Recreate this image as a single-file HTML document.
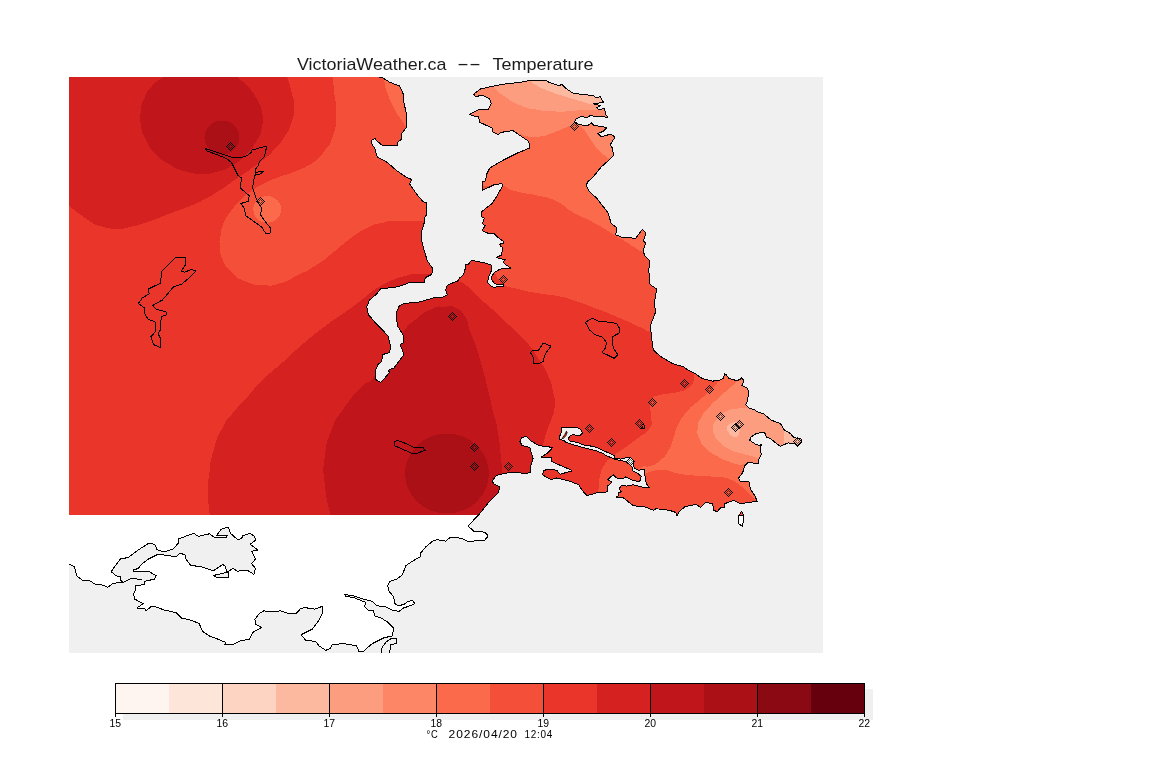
<!DOCTYPE html>
<html lang="en"><head><meta charset="utf-8"><title>VictoriaWeather.ca -- Temperature</title>
<style>html,body{margin:0;padding:0;background:#fff}body{width:1152px;height:768px;overflow:hidden}svg{display:block}</style>
</head><body>
<svg width="1152" height="768" viewBox="0 0 1152 768" shape-rendering="crispEdges">
<defs><clipPath id="land"><path d="M69 77 L379.5 77 L382.8 77.8 L389.5 82.2 L399.5 86 L402.9 92.3 L404 103.4 L406.2 112.3 L406.9 126.8 L401.7 133.5 L401.7 139 L397.3 142.4 L397.3 145.3 L382.8 145.7 L377.2 141.3 L375 138.6 L371.7 140.2 L371.7 143.5 L375 149 L377.2 156.9 L387.3 162.4 L396.2 170.2 L405.1 176.5 L411.8 179.6 L409.5 183.6 L416.2 193.6 L422.9 201.4 L426.7 203 L426.7 214.8 L424 218.1 L424.7 221.4 L421.8 230.4 L421.8 241 L424 250 L427.4 261 L432.9 268.8 L431.8 274.4 L425.1 277.7 L424.7 282.2 L409.5 282.6 L398.4 286.7 L380.6 288.9 L376.1 294.5 L369.5 300 L366.8 306.7 L368.3 314.5 L375 322.3 L382.8 330.1 L388.4 336.8 L390.6 346.8 L389.5 352.4 L382.8 354.6 L381.7 361.3 L377.9 364.6 L375 371.3 L375 379.1 L380.6 382.4 L383.9 379.1 L389.5 372.4 L388.4 370.2 L393.9 367.9 L400.6 359 L404 354.6 L400.2 344.6 L404 342.3 L402.9 334.5 L397.3 325.6 L396.2 312.3 L399.5 305.6 L404 303.4 L418.4 302.2 L434 297.8 L440 297.7 L444.2 296.7 L447.3 294.6 L445.7 289.9 L447.3 285.2 L453.5 282.6 L457.7 281 L459.8 277.9 L463.4 274.8 L465 269.6 L466 264.4 L469.2 263.9 L470.2 261.3 L472.3 260.2 L478.5 261.8 L485.8 263.1 L491 264.9 L492.1 269.1 L490 273.8 L488.1 278.4 L487.9 282.6 L490.5 285.7 L494.2 287.5 L496.3 286.8 L503.5 286.3 L503 284.2 L496.3 284.2 L494.2 283.1 L491.6 279.5 L491.6 276.4 L494.2 272.7 L498.3 270.1 L502.5 268.5 L510.8 268 L506.7 265.4 L503 262.3 L505.6 259.7 L499.4 258.6 L496.8 257.3 L501.5 255 L501.5 252.4 L503 250.3 L502.5 247.2 L500.4 246.1 L499.9 244.1 L503.3 243.5 L503 240.9 L499.9 238.9 L496.8 236.3 L494.2 233.6 L489 233.6 L483.8 231.6 L482.2 230 L482.6 229.2 L485.3 225.9 L482.6 223.7 L484.2 218.1 L481.9 217 L481.9 211.4 L492 203.6 L496.4 197 L502 186.9 L502 183.6 L494.2 184.7 L482.6 190.3 L482.6 181.4 L485.7 180.9 L486.4 174.7 L489.7 168 L503.1 160.2 L516.4 153.5 L529.8 148 L528.7 141.3 L518.7 134.6 L513.1 130.6 L500.9 132.4 L498.6 134.6 L493.1 132.4 L491.9 127.9 L479.7 122.3 L478.6 116.8 L471.9 115.7 L469.7 114.1 L479.7 109 L483 110 L488.6 109 L491.3 103.4 L489.7 99 L483 95.6 L475.2 96.3 L473.7 94 L480.8 88.9 L500.9 84.5 L520.9 82.2 L532 80 L545.4 80 L548.9 82.2 L558.8 85.6 L562.1 84.5 L566.6 88.9 L573.4 93.4 L593.5 95.6 L595.7 97.8 L600.1 96.7 L603.5 102.3 L593.5 103.9 L600.1 105.6 L596.8 107.9 L599 110 L604.6 108.3 L605.7 114.5 L607.9 117.2 L595.7 116.3 L590.1 115.7 L586.8 117.9 L581.2 116.3 L575.6 119.4 L574.5 121.7 L579 124.6 L587.9 125.7 L591.2 122.8 L593.5 125.2 L606.8 127.5 L603.5 131.2 L597.9 133.5 L601.2 136.8 L609 134.6 L613.5 135.3 L614.6 137.9 L610.2 144.6 L612.4 148 L613.5 155.7 L610.2 159.1 L601.2 166.9 L592.3 178 L587.9 181.4 L586.1 185.8 L590.1 192.5 L596.8 198.1 L603.5 207 L607.9 212.5 L611.3 223.7 L616.8 227.7 L615.7 234.8 L622.4 237.5 L635.8 238.2 L642.4 229.2 L645.8 232.6 L643.6 241 L645.5 243.2 L643.3 249.9 L644.4 255.5 L650 261 L648.8 270 L650 284.4 L656.6 288.9 L654.4 303.4 L655.5 312.3 L650.4 325.6 L651.7 339 L653.3 350.1 L661.1 356.8 L672.2 363.5 L683.4 366.8 L687.8 370 L695.6 373.9 L702.1 378.5 L712.6 381.1 L719.1 380.4 L723.6 378.5 L724.3 373.9 L726.2 374.6 L728.8 378.5 L736 380.4 L739.9 379.8 L741.2 377.6 L743.2 379.8 L743.2 383 L741.8 385.6 L747.7 388.2 L748.4 392.1 L747.7 400.6 L745.8 404.5 L748.4 407.8 L754.2 409.7 L758.1 412.3 L763.3 413.6 L771.1 420.1 L776.4 422.1 L780.3 423.4 L784.2 429.9 L790.7 433.8 L793.9 437.7 L801.1 439 L801.8 441.6 L797.8 446.2 L794.6 443.6 L788.1 442.9 L783.5 444.9 L780.3 446.2 L776.4 443.6 L771.1 439 L766.6 437.1 L764.6 432.5 L756.8 433.2 L751 437.1 L749.7 440.3 L755.5 444.2 L759.4 445.5 L761.4 444.5 L760.1 448.1 L761.4 454.6 L758.8 459.2 L758.8 463.8 L754.2 463.1 L747.7 462.7 L744.9 465.7 L742.7 472.4 L738.7 478 L740.4 482 L748.9 481.3 L750.5 489.1 L754.9 495.8 L757.1 501.3 L749.4 502.4 L740.4 503.6 L733.8 500.2 L724.9 503.6 L724.9 506.9 L720.4 508 L717.1 511.8 L713.7 510.2 L712.6 503.6 L705.9 502.4 L700.4 507.3 L695.9 504.2 L684.8 506.9 L679.2 511.4 L677 516.3 L675.9 512.5 L669.2 510.2 L655.8 508.7 L653.6 510.2 L644.7 506.9 L633.5 505.8 L623.5 498 L616.8 496.9 L616.2 498 L618.3 495.6 L618.3 492.5 L621.4 492 L619.3 488.8 L621.4 485.2 L626.6 486.2 L632.9 484.7 L639.1 486.2 L645.4 488 L649.5 487.6 L647.5 485.7 L645.4 480.5 L644.9 474.3 L644.3 469.6 L638.6 470.1 L634.4 468.5 L633.4 463.8 L633.9 460.7 L630.3 457.4 L624.5 458.1 L620.4 459.1 L615.2 458.1 L614.1 455.5 L608.9 452.9 L604.8 451.3 L598.5 448.2 L592.3 446.3 L581.8 444.6 L577.7 442.5 L569.3 440.9 L568.3 438.8 L569.9 436.2 L572.5 434.9 L580.3 435.2 L582.4 433.1 L581.3 430 L577.7 427.6 L561.5 427.9 L561 433.6 L559.1 437.3 L560 439.4 L563.6 440.4 L566.2 442.5 L572.5 444.6 L579.8 446.6 L588.1 448.7 L596.4 450.8 L602.7 453.4 L606.8 456 L611 457.6 L616.2 459.7 L622.5 460.7 L626.6 462.3 L629.8 464.9 L632.9 468 L632.9 471.1 L638.1 473.7 L641.2 476.3 L640.2 480.5 L638.1 481.8 L630.8 479.5 L627.7 477.9 L625.6 476.9 L622.5 478.9 L617.3 478.4 L613.1 474.8 L607.9 479.5 L612 482.4 L607.9 485.7 L607.4 491.4 L604.8 492.5 L596.4 493 L587 495.6 L581.8 489.9 L578.7 484.7 L570.4 481.5 L565.2 480 L556.8 477.9 L551.6 479.5 L546.4 477.4 L542.8 474.8 L543.3 471.1 L546.4 469.6 L556.8 470.1 L560 474.3 L567.3 472.2 L571.9 471.1 L570.4 469.6 L564.1 467 L556.8 463.8 L551.6 461.2 L551.1 457.6 L541.2 457.1 L546.4 453.9 L549.5 451.3 L552.7 447.4 L542.3 446.1 L538.7 445.4 L530.9 441 L526.5 436.5 L522 437.6 L519.8 441 L522 445.4 L529.8 447.6 L533.1 458.8 L530.9 465.5 L530.9 472.1 L525.4 473.9 L516.4 472.1 L505.3 473.2 L496.4 475.5 L492 481 L494.2 484.4 L499.7 486.6 L498.6 492.2 L489.7 501.1 L480.8 512.2 L478.6 515 L69 515.0Z"/></clipPath><clipPath id="map"><rect x="69" y="77" width="754" height="576"/></clipPath></defs>
<rect x="69" y="77" width="754" height="576" fill="#f0f0f0"/>
<g clip-path="url(#map)">
<path d="M69 515 L478.6 515 L473.7 520 L468.2 526.2 L473.7 531.1 L484.9 532.2 L488.2 536 L484.9 540 L468.2 541.6 L461.5 538.3 L450.4 537.1 L445.9 541.2 L437 539.6 L432.5 541.2 L425.9 546.7 L420.3 553.4 L420.3 556.7 L412.5 561.2 L405.8 565.7 L402.5 574.6 L396.9 579 L390.2 581.2 L387.6 585.7 L389.1 591.3 L393.6 596.8 L394.7 603.5 L398 605.7 L403.6 604.6 L408 601.3 L412.5 600.6 L414.7 603.5 L410.3 605.7 L403.6 608 L399.1 611.3 L392.4 610.2 L385.8 606.9 L376.9 605.7 L372.4 601.3 L363.5 599.1 L353.5 595.7 L344.6 594.6 L345.7 596.2 L354.6 598 L365.7 602.4 L364.6 606.9 L368 610.2 L373.5 610.2 L374.6 615.8 L381.3 618 L388 622.4 L393.6 628 L392.4 635.8 L383.5 638 L372.4 643.6 L366.8 648.1 L363.5 651.8 L359 651.4 L356.4 645.8 L343.5 643.6 L332.3 644.7 L330.1 648.7 L325.6 650.3 L319 645.8 L315.6 641.4 L305.6 640.3 L301.1 634.7 L312.3 629.1 L319 620.2 L323 612.4 L322.3 606.4 L314.5 609.1 L305 607.6 L300.5 608.7 L296.1 613.6 L289.4 614 L280.5 610.7 L273.8 612 L263.8 610.9 L259.3 613.6 L254.9 619.2 L256 624.7 L261.6 627.4 L252.7 632.5 L249.3 639.2 L240.4 640.8 L233.7 644.3 L224.8 644.8 L225.9 642.5 L218.1 639.2 L209.2 635.9 L202.5 631.4 L199.2 623.6 L191.4 620.3 L181.4 618 L175.8 612.5 L164.7 610.2 L155.8 606.9 L151.3 606.5 L145.7 610.9 L144.6 608 L136.8 608 L143.5 603.6 L134.6 599.1 L133.5 593.5 L135.7 590.2 L135.7 585.7 L144.6 584.6 L144.6 581.3 L154.7 579.1 L156.2 575.7 L149.1 571.7 L133.5 571.3 L133.5 575 L131.2 578.6 L131.2 578.6 L123.4 582.2 L113.3 583.3 L107.8 587.2 L100 584.1 L95.6 584.6 L89 580.2 L82.3 580.2 L76.7 575.7 L74.5 566.8 L69 564.1Z" fill="#fff"/>
<path d="M133.6 572.3 L133.6 570 L138.3 568.4 L141.4 564.5 L148.4 559 L157.8 554.4 L165.6 555.2 L175.8 556.7 L180.5 553.1 L185.2 555.2 L185.9 559 L190.6 565.3 L201.6 566.9 L213.3 570.8 L222.7 564.5 L225 566.1 L227.3 572.3 L213.3 575.5 L215.6 577 L228.9 577 L228.1 571.6 L232.8 568.4 L237.5 571.2 L246.9 570 L253.9 574.4 L255.5 568.4 L251.6 563.8 L255.5 559 L251.6 551.2 L257.8 550 L250 544.2 L255.5 540.3 L254.7 536.4 L250 533.3 L243 535.6 L241.4 538.8 L237.5 539.5 L230.5 533.3 L228.1 527 L221.1 529.4 L216.4 535.6 L227.3 535.3 L226.6 537.2 L215.6 538 L209.4 533.8 L198.4 536.4 L193.8 533.3 L187.5 535.6 L178.9 538.8 L178.1 543.4 L173.4 548.9 L164 552 L157 549.7 L154.7 544.2 L148.4 543.4 L137.5 550.5 L128.1 557.5 L120.3 559 L115.6 565.3 L111.2 571.6 L115.6 575.5 L121.1 577 L120.3 580.2 L123.4 582.2 L131.2 578.6 L142.2 579.4Z" fill="#f0f0f0"/>
</g>
<g clip-path="url(#land)">
<rect x="69" y="77" width="754" height="438" fill="#ea362a"/>
<path d="M287.0 77.0 C288.6 82.1 289.4 82.0 291.7 92.3 C294.0 102.6 294.1 97.5 293.8 107.9 C293.5 118.3 294.2 113.7 290.9 123.6 C287.6 133.5 289.6 128.8 283.9 137.6 C278.2 146.4 280.8 142.6 273.8 150.1 C266.8 157.6 270.9 153.5 263.0 160.0 C255.1 166.5 259.0 163.2 250.0 169.5 C241.0 175.8 245.7 172.3 236.0 179.0 C226.3 185.7 230.8 183.1 221.0 189.5 C211.2 195.9 216.8 192.8 206.5 198.3 C196.2 203.8 202.2 200.9 190.0 206.0 C177.8 211.1 183.7 208.3 170.0 213.5 C156.3 218.7 162.3 217.0 149.0 221.5 C135.7 226.0 141.1 224.6 130.0 227.0 C118.9 229.4 125.7 228.9 115.7 228.6 C105.7 228.3 109.7 229.2 100.0 226.0 C90.3 222.8 97.0 225.7 86.7 219.0 C76.4 212.3 74.9 210.3 69.0 206.0 L50.0 190.0 L50.0 60.0 L287.0 60.0Z" fill="#d52221"/>
<path d="M163.6 77.0 C159.7 80.0 158.4 78.9 151.9 86.1 C145.4 93.3 147.9 89.8 144.1 98.6 C140.3 107.4 141.7 103.8 140.6 112.6 C139.5 121.4 139.2 116.2 140.9 125.1 C142.6 134.0 140.9 129.8 145.6 139.2 C150.3 148.6 147.2 145.0 155.0 153.3 C162.8 161.6 159.2 158.2 169.1 164.2 C179.0 170.2 174.3 168.1 184.7 171.2 C195.1 174.3 189.9 173.3 200.3 173.6 C210.7 173.9 205.5 174.6 215.9 172.0 C226.3 169.4 221.7 171.5 231.6 165.8 C241.5 160.1 237.3 163.1 245.6 154.8 C253.9 146.5 251.1 150.2 256.6 140.8 C262.1 131.4 260.2 136.1 262.0 126.7 C263.8 117.3 263.8 122.0 262.0 112.6 C260.2 103.2 261.0 106.9 256.6 98.6 C252.2 90.3 254.5 94.1 248.8 87.6 C243.1 81.1 243.6 82.5 239.4 79.0 C235.2 75.5 237.3 77.7 236.3 77.0 L232.0 70.0 L168.0 70.0Z" fill="#c0151b"/>
<path d="M332.0 70.0 C332.7 76.7 332.7 75.2 334.0 90.0 C335.3 104.8 336.4 98.9 336.0 114.5 C335.6 130.1 336.4 125.0 332.7 136.8 C329.0 148.6 329.6 143.0 325.0 150.0 C320.4 157.0 323.9 152.9 318.8 157.8 C313.6 162.7 317.7 160.1 309.4 164.8 C301.1 169.5 304.2 167.7 293.8 171.9 C283.3 176.1 287.5 173.7 278.1 177.3 C268.7 180.9 273.9 178.6 265.6 182.8 C257.3 187.0 261.4 184.1 253.1 189.8 C244.8 195.5 247.9 193.0 240.6 200.0 C233.3 207.0 237.0 203.1 231.2 210.9 C225.5 218.7 227.1 214.5 223.4 223.4 C219.8 232.3 221.5 230.3 220.3 237.5 C219.1 244.7 219.3 238.3 219.8 245.0 C220.3 251.7 218.1 248.5 221.9 257.5 C225.7 266.5 223.3 264.1 231.2 272.1 C239.2 280.1 235.4 277.2 245.8 281.5 C256.2 285.8 251.4 284.3 262.5 285.0 C273.6 285.7 267.4 286.8 279.2 283.5 C291.0 280.2 285.4 281.4 297.9 275.2 C310.4 269.0 304.9 272.4 316.7 264.8 C328.5 257.2 322.2 261.0 333.3 252.3 C344.4 243.6 338.9 246.8 350.0 238.8 C361.1 230.8 356.3 233.5 366.7 228.3 C377.1 223.1 370.1 225.5 381.2 223.1 C392.4 220.7 380.4 221.7 400.0 221.0 C419.6 220.3 426.7 221.0 440.0 221.0 L440.0 60.0 L332.0 60.0Z" fill="#f44f39"/>
<path d="M382.8 70.0 C383.4 74.0 383.1 74.7 384.5 82.0 C385.9 89.3 383.8 83.3 387.0 92.0 C390.2 100.7 389.5 99.0 394.0 108.0 C398.5 117.0 396.6 112.7 400.6 119.0 C404.6 125.3 404.2 124.3 406.0 127.0 L415.0 127.0 L415.0 70.0Z" fill="#fb6a4a"/>
<path d="M210.3 520.0 C209.6 511.5 208.5 509.6 208.1 494.4 C207.7 479.2 207.3 489.2 209.2 474.4 C211.1 459.6 209.2 465.5 213.7 449.9 C218.2 434.3 215.9 440.2 222.6 427.6 C229.3 415.0 224.8 423.0 233.7 412.0 C242.6 401.0 239.7 405.4 249.3 394.7 C258.9 384.0 251.2 391.0 262.5 380.0 C273.8 369.0 269.4 374.1 283.3 361.7 C297.2 349.3 290.3 354.7 304.2 342.9 C318.1 331.1 311.1 336.6 325.0 326.2 C338.9 315.9 333.3 320.7 345.8 311.7 C358.3 302.7 353.5 306.2 362.5 299.2 C371.5 292.2 366.6 295.3 372.9 290.8 C379.1 286.3 375.0 289.1 381.2 285.6 C387.5 282.1 384.1 283.5 391.7 280.4 C399.3 277.3 395.9 278.5 404.2 276.2 C412.5 274.0 407.8 274.3 416.7 273.8 C425.6 273.2 422.2 273.9 431.0 274.6 C439.8 275.4 434.1 273.9 443.0 276.0 C451.9 278.1 450.0 277.9 457.7 281.0 C465.4 284.1 460.4 281.4 466.0 285.2 C471.6 289.0 468.5 286.9 474.4 292.5 C480.3 298.1 477.2 295.7 483.8 301.9 C490.4 308.1 484.8 302.3 494.2 311.0 C503.6 319.7 500.9 317.1 512.0 327.9 C523.1 338.7 518.7 333.0 527.6 343.4 C536.5 353.8 532.0 348.6 538.7 359.0 C545.4 369.4 542.8 363.5 547.6 374.6 C552.4 385.7 550.9 381.9 553.2 392.4 C555.5 402.9 555.0 397.5 554.6 406.0 C554.2 414.5 554.6 409.7 552.0 418.0 C549.4 426.3 549.6 422.2 546.7 431.0 C543.8 439.8 544.4 440.0 543.3 444.5 L537.0 470.0 L520.0 530.0 L210.3 530.0Z" fill="#d52221"/>
<path d="M331.6 520.0 C329.4 508.5 327.1 506.7 324.9 485.5 C322.7 464.3 322.7 475.1 324.9 456.5 C327.1 437.9 325.7 445.3 331.6 429.8 C337.5 414.3 333.1 423.9 342.7 410.0 C352.3 396.1 350.1 399.0 360.5 388.0 C370.9 377.0 364.8 387.9 374.0 376.9 C383.2 365.9 378.4 369.9 388.0 355.0 C397.6 340.1 393.5 344.3 402.9 332.3 C412.3 320.3 406.6 326.8 416.2 319.0 C425.8 311.2 422.1 313.1 431.8 309.0 C441.5 304.9 437.4 307.1 445.2 306.7 C453.0 306.3 448.5 304.5 455.2 307.8 C461.9 311.1 460.4 309.3 465.2 316.7 C470.0 324.1 466.0 319.7 469.7 330.1 C473.4 340.5 472.0 334.5 476.4 347.9 C480.8 361.3 478.9 355.4 483.0 370.2 C487.1 385.0 485.2 378.5 488.6 392.4 C492.0 406.3 490.1 399.5 493.1 412.0 C496.1 424.5 494.9 415.0 497.5 429.8 C500.1 444.6 499.4 442.0 500.9 456.5 C502.4 471.0 501.6 467.6 502.0 473.2 L500.0 530.0 L331.6 530.0Z" fill="#c0151b"/>
<path d="M494.7 273.2 C494.9 273.4 494.0 271.9 495.2 273.8 C496.4 275.7 495.9 275.9 498.3 279.0 C500.7 282.1 499.7 280.7 502.5 283.1 C505.3 285.5 502.5 284.6 506.7 286.3 C510.9 288.0 507.7 286.6 515.0 288.3 C522.3 290.0 518.8 289.6 528.5 291.5 C538.2 293.4 533.4 292.4 544.2 294.1 C555.0 295.8 551.7 294.7 561.0 296.7 C570.3 298.7 560.9 296.3 572.0 300.0 C583.1 303.7 579.5 302.2 594.3 307.8 C609.1 313.4 601.7 310.4 616.5 316.7 C631.3 323.0 627.5 321.5 638.8 326.7 C650.1 331.9 640.0 327.9 650.4 332.3 C660.8 336.7 663.5 337.4 670.0 340.0 L670.0 60.0 L445.0 60.0 L445.0 200.0 L470.0 245.0 L495.0 262.0 L495.0 270.0Z" fill="#f44f39"/>
<path d="M495.0 186.5 C497.3 186.3 494.9 184.2 502.0 185.8 C509.1 187.4 504.2 188.1 516.4 191.4 C528.6 194.7 525.3 192.5 538.7 195.8 C552.1 199.1 544.9 195.8 556.5 201.4 C568.1 207.0 560.3 205.1 573.4 212.5 C586.5 219.9 581.6 215.9 595.7 223.7 C609.8 231.5 606.1 230.2 615.7 236.0 C625.3 241.8 617.6 236.7 624.6 241.0 C631.6 245.3 630.4 245.1 636.6 248.8 C642.8 252.5 635.5 248.9 643.3 252.0 C651.1 255.1 654.4 256.0 660.0 258.0 L670.0 60.0 L445.0 60.0 L445.0 186.0Z" fill="#fb6a4a"/>
<path d="M505.0 134.5 C508.8 134.2 508.1 132.7 516.4 133.5 C524.7 134.3 521.9 135.8 529.8 136.8 C537.7 137.8 533.3 137.4 540.0 136.5 C546.7 135.6 542.5 136.5 549.9 134.0 C557.3 131.5 555.3 131.7 562.2 129.0 C569.1 126.3 564.9 127.0 570.5 126.0 C576.1 125.0 574.4 124.6 579.0 126.0 C583.6 127.4 580.7 126.1 584.4 130.3 C588.1 134.5 585.4 132.2 590.0 138.7 C594.6 145.2 592.3 143.4 598.3 149.8 C604.3 156.2 600.8 152.3 608.0 158.0 C615.2 163.7 616.0 164.0 620.0 167.0 L630.0 160.0 L630.0 60.0 L460.0 60.0 L460.0 140.0Z" fill="#fc8666"/>
<path d="M494.0 88.0 C497.7 90.9 496.0 90.8 505.0 96.7 C514.0 102.6 509.8 101.2 521.0 105.6 C532.2 110.0 526.9 108.0 538.7 110.0 C550.5 112.0 545.4 111.2 556.5 111.5 C567.6 111.8 562.7 111.5 572.0 111.0 C581.3 110.5 572.5 110.5 584.5 110.0 C596.5 109.5 600.2 109.7 608.0 109.6 L620.0 100.0 L620.0 60.0 L490.0 60.0Z" fill="#fc9d7f"/>
<path d="M529.8 81.0 C532.8 82.9 531.3 82.9 538.7 86.7 C546.1 90.5 544.2 89.3 552.0 92.3 C559.8 95.3 551.2 92.3 562.0 95.6 C572.8 98.9 573.6 99.3 584.5 102.3 C595.4 105.3 584.4 103.9 594.6 104.5 C604.8 105.1 608.2 104.2 615.0 104.0 L615.0 60.0 L528.0 60.0Z" fill="#fcb99f"/>
<path d="M694.0 373.5 C693.8 376.1 695.5 376.5 693.4 381.3 C691.3 386.1 693.4 384.3 687.8 388.0 C682.2 391.7 685.6 390.2 676.7 392.4 C667.8 394.6 669.2 392.5 661.0 394.7 C652.8 396.9 655.7 395.2 652.0 399.0 C648.3 402.8 650.2 399.7 650.0 406.0 C649.8 412.3 651.7 410.1 651.4 417.8 C651.1 425.5 653.5 422.3 649.0 429.0 C644.5 435.7 646.1 431.6 638.0 437.9 C629.9 444.2 632.8 442.0 624.6 447.9 C616.4 453.8 620.2 450.1 613.5 455.7 C606.8 461.3 609.1 457.9 604.6 464.6 C600.1 471.3 602.0 469.0 600.1 475.7 C598.2 482.4 599.6 479.4 599.0 484.6 C598.4 489.8 598.7 486.2 598.4 491.3 C598.1 496.4 598.1 497.1 598.0 500.0 L598.0 530.0 L830.0 530.0 L830.0 365.0 L700.0 365.0Z" fill="#f44f39"/>
<path d="M719.0 380.0 C717.5 381.9 719.0 380.9 714.5 385.8 C710.0 390.7 711.8 389.0 705.6 394.7 C699.4 400.4 702.2 397.4 696.0 403.0 C689.8 408.6 693.0 404.3 687.0 411.5 C681.0 418.7 682.6 415.7 678.1 424.5 C673.6 433.3 676.9 429.0 673.6 437.9 C670.3 446.8 672.5 443.8 668.1 451.2 C663.7 458.6 665.9 455.3 660.3 460.1 C654.7 464.9 657.4 463.5 651.4 465.7 C645.4 467.9 646.2 465.4 642.4 466.8 C638.6 468.2 639.2 467.8 640.0 470.0 C640.8 472.2 640.9 473.1 644.7 473.5 C648.5 473.9 644.7 472.4 651.4 471.3 C658.1 470.2 655.8 469.5 664.7 470.2 C673.6 470.9 667.7 471.7 678.1 473.5 C688.5 475.3 684.0 474.6 695.9 475.7 C707.8 476.8 702.6 475.7 713.7 476.8 C724.8 477.9 720.4 476.1 729.3 479.1 C738.2 482.1 733.7 480.9 740.4 485.7 C747.1 490.5 744.2 488.4 749.4 493.5 C754.6 498.6 753.8 498.5 756.0 501.0 L770.0 510.0 L830.0 510.0 L830.0 365.0 L725.0 365.0Z" fill="#fb6a4a"/>
<path d="M737.3 381.1 C734.7 383.5 735.6 382.8 729.5 388.2 C723.4 393.6 726.1 390.8 719.1 397.3 C712.1 403.8 714.7 400.8 708.6 407.8 C702.5 414.8 704.5 411.3 700.8 418.2 C697.1 425.1 698.0 421.7 697.6 428.6 C697.2 435.5 696.7 432.5 699.5 439.0 C702.3 445.5 700.3 442.5 706.0 448.1 C711.7 453.7 708.7 451.3 716.5 455.9 C724.3 460.5 721.3 458.8 729.5 461.8 C737.7 464.8 735.6 464.3 741.2 465.0 C746.8 465.7 738.5 464.5 746.4 463.8 C754.3 463.1 758.8 463.3 765.0 463.0 L830.0 463.0 L830.0 365.0 L745.0 365.0Z" fill="#fc8666"/>
<path d="M745.8 407.8 C742.1 408.2 741.4 407.7 734.7 409.0 C728.0 410.3 731.2 408.6 725.6 411.7 C720.0 414.8 721.9 413.4 717.8 418.2 C713.7 423.0 714.3 420.4 713.2 426.0 C712.1 431.6 712.1 429.5 714.5 435.1 C716.9 440.7 715.4 438.1 720.4 442.9 C725.4 447.7 722.6 445.9 729.5 449.4 C736.4 452.9 733.4 450.9 741.2 453.3 C749.0 455.7 746.0 454.7 752.9 456.6 C759.8 458.5 759.0 458.2 762.0 459.0 L830.0 459.0 L830.0 407.0Z" fill="#fc9d7f"/>
<path d="M726.9 427.3 C727.7 423.8 734.3 421.2 737.3 422.1 C740.3 423.0 740.7 427.7 739.9 431.2 C739.1 434.7 737.0 437.9 734.0 437.0 C731.0 436.1 726.1 430.8 726.9 427.3Z" fill="#fcb99f"/>
<path d="M784.2 431.2 C784.0 433.8 783.5 434.4 783.5 439.0 C783.5 443.6 784.0 443.0 784.2 445.0 L830.0 445.0 L830.0 425.0 L784.0 425.0Z" fill="#fcb99f"/>
<ellipse cx="222" cy="137.5" rx="17.5" ry="17" fill="#aa1016"/>
<ellipse cx="447" cy="473.5" rx="42" ry="40" fill="#aa1016"/>
<ellipse cx="267.2" cy="209.4" rx="14" ry="13.3" fill="#fb6a4a"/>
</g>
<g clip-path="url(#map)" fill="none" stroke="#000" stroke-width="1" stroke-linejoin="round">
<path d="M379.5 77 L382.8 77.8 L389.5 82.2 L399.5 86 L402.9 92.3 L404 103.4 L406.2 112.3 L406.9 126.8 L401.7 133.5 L401.7 139 L397.3 142.4 L397.3 145.3 L382.8 145.7 L377.2 141.3 L375 138.6 L371.7 140.2 L371.7 143.5 L375 149 L377.2 156.9 L387.3 162.4 L396.2 170.2 L405.1 176.5 L411.8 179.6 L409.5 183.6 L416.2 193.6 L422.9 201.4 L426.7 203 L426.7 214.8 L424 218.1 L424.7 221.4 L421.8 230.4 L421.8 241 L424 250 L427.4 261 L432.9 268.8 L431.8 274.4 L425.1 277.7 L424.7 282.2 L409.5 282.6 L398.4 286.7 L380.6 288.9 L376.1 294.5 L369.5 300 L366.8 306.7 L368.3 314.5 L375 322.3 L382.8 330.1 L388.4 336.8 L390.6 346.8 L389.5 352.4 L382.8 354.6 L381.7 361.3 L377.9 364.6 L375 371.3 L375 379.1 L380.6 382.4 L383.9 379.1 L389.5 372.4 L388.4 370.2 L393.9 367.9 L400.6 359 L404 354.6 L400.2 344.6 L404 342.3 L402.9 334.5 L397.3 325.6 L396.2 312.3 L399.5 305.6 L404 303.4 L418.4 302.2 L434 297.8 L440 297.7 L444.2 296.7 L447.3 294.6 L445.7 289.9 L447.3 285.2 L453.5 282.6 L457.7 281 L459.8 277.9 L463.4 274.8 L465 269.6 L466 264.4 L469.2 263.9 L470.2 261.3 L472.3 260.2 L478.5 261.8 L485.8 263.1 L491 264.9 L492.1 269.1 L490 273.8 L488.1 278.4 L487.9 282.6 L490.5 285.7 L494.2 287.5 L496.3 286.8 L503.5 286.3 L503 284.2 L496.3 284.2 L494.2 283.1 L491.6 279.5 L491.6 276.4 L494.2 272.7 L498.3 270.1 L502.5 268.5 L510.8 268 L506.7 265.4 L503 262.3 L505.6 259.7 L499.4 258.6 L496.8 257.3 L501.5 255 L501.5 252.4 L503 250.3 L502.5 247.2 L500.4 246.1 L499.9 244.1 L503.3 243.5 L503 240.9 L499.9 238.9 L496.8 236.3 L494.2 233.6 L489 233.6 L483.8 231.6 L482.2 230 L482.6 229.2 L485.3 225.9 L482.6 223.7 L484.2 218.1 L481.9 217 L481.9 211.4 L492 203.6 L496.4 197 L502 186.9 L502 183.6 L494.2 184.7 L482.6 190.3 L482.6 181.4 L485.7 180.9 L486.4 174.7 L489.7 168 L503.1 160.2 L516.4 153.5 L529.8 148 L528.7 141.3 L518.7 134.6 L513.1 130.6 L500.9 132.4 L498.6 134.6 L493.1 132.4 L491.9 127.9 L479.7 122.3 L478.6 116.8 L471.9 115.7 L469.7 114.1 L479.7 109 L483 110 L488.6 109 L491.3 103.4 L489.7 99 L483 95.6 L475.2 96.3 L473.7 94 L480.8 88.9 L500.9 84.5 L520.9 82.2 L532 80 L545.4 80 L548.9 82.2 L558.8 85.6 L562.1 84.5 L566.6 88.9 L573.4 93.4 L593.5 95.6 L595.7 97.8 L600.1 96.7 L603.5 102.3 L593.5 103.9 L600.1 105.6 L596.8 107.9 L599 110 L604.6 108.3 L605.7 114.5 L607.9 117.2 L595.7 116.3 L590.1 115.7 L586.8 117.9 L581.2 116.3 L575.6 119.4 L574.5 121.7 L579 124.6 L587.9 125.7 L591.2 122.8 L593.5 125.2 L606.8 127.5 L603.5 131.2 L597.9 133.5 L601.2 136.8 L609 134.6 L613.5 135.3 L614.6 137.9 L610.2 144.6 L612.4 148 L613.5 155.7 L610.2 159.1 L601.2 166.9 L592.3 178 L587.9 181.4 L586.1 185.8 L590.1 192.5 L596.8 198.1 L603.5 207 L607.9 212.5 L611.3 223.7 L616.8 227.7 L615.7 234.8 L622.4 237.5 L635.8 238.2 L642.4 229.2 L645.8 232.6 L643.6 241 L645.5 243.2 L643.3 249.9 L644.4 255.5 L650 261 L648.8 270 L650 284.4 L656.6 288.9 L654.4 303.4 L655.5 312.3 L650.4 325.6 L651.7 339 L653.3 350.1 L661.1 356.8 L672.2 363.5 L683.4 366.8 L687.8 370 L695.6 373.9 L702.1 378.5 L712.6 381.1 L719.1 380.4 L723.6 378.5 L724.3 373.9 L726.2 374.6 L728.8 378.5 L736 380.4 L739.9 379.8 L741.2 377.6 L743.2 379.8 L743.2 383 L741.8 385.6 L747.7 388.2 L748.4 392.1 L747.7 400.6 L745.8 404.5 L748.4 407.8 L754.2 409.7 L758.1 412.3 L763.3 413.6 L771.1 420.1 L776.4 422.1 L780.3 423.4 L784.2 429.9 L790.7 433.8 L793.9 437.7 L801.1 439 L801.8 441.6 L797.8 446.2 L794.6 443.6 L788.1 442.9 L783.5 444.9 L780.3 446.2 L776.4 443.6 L771.1 439 L766.6 437.1 L764.6 432.5 L756.8 433.2 L751 437.1 L749.7 440.3 L755.5 444.2 L759.4 445.5 L761.4 444.5 L760.1 448.1 L761.4 454.6 L758.8 459.2 L758.8 463.8 L754.2 463.1 L747.7 462.7 L744.9 465.7 L742.7 472.4 L738.7 478 L740.4 482 L748.9 481.3 L750.5 489.1 L754.9 495.8 L757.1 501.3 L749.4 502.4 L740.4 503.6 L733.8 500.2 L724.9 503.6 L724.9 506.9 L720.4 508 L717.1 511.8 L713.7 510.2 L712.6 503.6 L705.9 502.4 L700.4 507.3 L695.9 504.2 L684.8 506.9 L679.2 511.4 L677 516.3 L675.9 512.5 L669.2 510.2 L655.8 508.7 L653.6 510.2 L644.7 506.9 L633.5 505.8 L623.5 498 L616.8 496.9 L616.2 498 L618.3 495.6 L618.3 492.5 L621.4 492 L619.3 488.8 L621.4 485.2 L626.6 486.2 L632.9 484.7 L639.1 486.2 L645.4 488 L649.5 487.6 L647.5 485.7 L645.4 480.5 L644.9 474.3 L644.3 469.6 L638.6 470.1 L634.4 468.5 L633.4 463.8 L633.9 460.7 L630.3 457.4 L624.5 458.1 L620.4 459.1 L615.2 458.1 L614.1 455.5 L608.9 452.9 L604.8 451.3 L598.5 448.2 L592.3 446.3 L581.8 444.6 L577.7 442.5 L569.3 440.9 L568.3 438.8 L569.9 436.2 L572.5 434.9 L580.3 435.2 L582.4 433.1 L581.3 430 L577.7 427.6 L561.5 427.9 L561 433.6 L559.1 437.3 L560 439.4 L563.6 440.4 L566.2 442.5 L572.5 444.6 L579.8 446.6 L588.1 448.7 L596.4 450.8 L602.7 453.4 L606.8 456 L611 457.6 L616.2 459.7 L622.5 460.7 L626.6 462.3 L629.8 464.9 L632.9 468 L632.9 471.1 L638.1 473.7 L641.2 476.3 L640.2 480.5 L638.1 481.8 L630.8 479.5 L627.7 477.9 L625.6 476.9 L622.5 478.9 L617.3 478.4 L613.1 474.8 L607.9 479.5 L612 482.4 L607.9 485.7 L607.4 491.4 L604.8 492.5 L596.4 493 L587 495.6 L581.8 489.9 L578.7 484.7 L570.4 481.5 L565.2 480 L556.8 477.9 L551.6 479.5 L546.4 477.4 L542.8 474.8 L543.3 471.1 L546.4 469.6 L556.8 470.1 L560 474.3 L567.3 472.2 L571.9 471.1 L570.4 469.6 L564.1 467 L556.8 463.8 L551.6 461.2 L551.1 457.6 L541.2 457.1 L546.4 453.9 L549.5 451.3 L552.7 447.4 L542.3 446.1 L538.7 445.4 L530.9 441 L526.5 436.5 L522 437.6 L519.8 441 L522 445.4 L529.8 447.6 L533.1 458.8 L530.9 465.5 L530.9 472.1 L525.4 473.9 L516.4 472.1 L505.3 473.2 L496.4 475.5 L492 481 L494.2 484.4 L499.7 486.6 L498.6 492.2 L489.7 501.1 L480.8 512.2 L478.6 515 L473.7 520 L468.2 526.2 L473.7 531.1 L484.9 532.2 L488.2 536 L484.9 540 L468.2 541.6 L461.5 538.3 L450.4 537.1 L445.9 541.2 L437 539.6 L432.5 541.2 L425.9 546.7 L420.3 553.4 L420.3 556.7 L412.5 561.2 L405.8 565.7 L402.5 574.6 L396.9 579 L390.2 581.2 L387.6 585.7 L389.1 591.3 L393.6 596.8 L394.7 603.5 L398 605.7 L403.6 604.6 L408 601.3 L412.5 600.6 L414.7 603.5 L410.3 605.7 L403.6 608 L399.1 611.3 L392.4 610.2 L385.8 606.9 L376.9 605.7 L372.4 601.3 L363.5 599.1 L353.5 595.7 L344.6 594.6 L345.7 596.2 L354.6 598 L365.7 602.4 L364.6 606.9 L368 610.2 L373.5 610.2 L374.6 615.8 L381.3 618 L388 622.4 L393.6 628 L392.4 635.8 L383.5 638 L372.4 643.6 L366.8 648.1 L363.5 651.8 L359 651.4 L356.4 645.8 L343.5 643.6 L332.3 644.7 L330.1 648.7 L325.6 650.3 L319 645.8 L315.6 641.4 L305.6 640.3 L301.1 634.7 L312.3 629.1 L319 620.2 L323 612.4 L322.3 606.4 L314.5 609.1 L305 607.6 L300.5 608.7 L296.1 613.6 L289.4 614 L280.5 610.7 L273.8 612 L263.8 610.9 L259.3 613.6 L254.9 619.2 L256 624.7 L261.6 627.4 L252.7 632.5 L249.3 639.2 L240.4 640.8 L233.7 644.3 L224.8 644.8 L225.9 642.5 L218.1 639.2 L209.2 635.9 L202.5 631.4 L199.2 623.6 L191.4 620.3 L181.4 618 L175.8 612.5 L164.7 610.2 L155.8 606.9 L151.3 606.5 L145.7 610.9 L144.6 608 L136.8 608 L143.5 603.6 L134.6 599.1 L133.5 593.5 L135.7 590.2 L135.7 585.7 L144.6 584.6 L144.6 581.3 L154.7 579.1 L156.2 575.7 L149.1 571.7 L133.5 571.3"/>
<path d="M133.6 572.3 L133.6 570 L138.3 568.4 L141.4 564.5 L148.4 559 L157.8 554.4 L165.6 555.2 L175.8 556.7 L180.5 553.1 L185.2 555.2 L185.9 559 L190.6 565.3 L201.6 566.9 L213.3 570.8 L222.7 564.5 L225 566.1 L227.3 572.3 L213.3 575.5 L215.6 577 L228.9 577 L228.1 571.6 L232.8 568.4 L237.5 571.2 L246.9 570 L253.9 574.4 L255.5 568.4 L251.6 563.8 L255.5 559 L251.6 551.2 L257.8 550 L250 544.2 L255.5 540.3 L254.7 536.4 L250 533.3 L243 535.6 L241.4 538.8 L237.5 539.5 L230.5 533.3 L228.1 527 L221.1 529.4 L216.4 535.6 L227.3 535.3 L226.6 537.2 L215.6 538 L209.4 533.8 L198.4 536.4 L193.8 533.3 L187.5 535.6 L178.9 538.8 L178.1 543.4 L173.4 548.9 L164 552 L157 549.7 L154.7 544.2 L148.4 543.4 L137.5 550.5 L128.1 557.5 L120.3 559 L115.6 565.3 L111.2 571.6 L115.6 575.5 L121.1 577 L120.3 580.2 L123.4 582.2 L131.2 578.6 L142.2 579.4"/>
<path d="M131.2 578.6 L123.4 582.2 L113.3 583.3 L107.8 587.2 L100 584.1 L95.6 584.6 L89 580.2 L82.3 580.2 L76.7 575.7 L74.5 566.8 L69 564.1"/>
<path d="M205.5 148.3 L208.1 149.3 L217.5 152.5 L226.9 155.6 L233.1 157.9 L240.9 157.6 L247.2 155.6 L251.1 152.5 L251.9 150.1 L258.1 148.3 L266.7 146.2 L265.9 150.1 L264.4 156.4 L259.7 161.1 L258.1 165.8 L255 169.7 L255 173.6 L259.7 171.2 L263.6 171.7 L259.7 174.3 L255 175.1 L253.4 181.4 L252.7 188 L256 198.1 L259.4 204.7 L261.6 208.1 L260.5 214.8 L266 222.6 L270.5 228.1 L270.5 233 L266 233.7 L261.6 227 L253.8 221.4 L246 215.9 L243.7 207 L240.4 203.6 L248.2 201.4 L249.3 195.8 L240.4 188 L240.2 186 L241.7 178.3 L237.8 175.1 L234.7 168.9 L231.6 162.7 L226.9 158.8 L217.5 154.8 L206.6 150.8Z"/>
<path d="M176.3 257 L185.8 257 L185.8 264.4 L181.4 271 L184.7 272.2 L191.4 269.3 L195.9 271 L188 278.9 L181.4 284.4 L173.6 286.7 L169.1 292.2 L162.4 300 L152.4 305.6 L155.8 308.9 L166.9 312.3 L166.5 314.9 L161.3 316.7 L160.2 330.1 L158 333.4 L160.7 339 L160.2 347.5 L153.5 344.6 L150.9 336.8 L155.8 331.2 L155.8 322.3 L148 319 L144.6 313.4 L144.2 307.8 L138.4 303.4 L142.4 297.8 L149.1 294 L148.6 288.9 L160.2 283.3 L162 271.0Z"/>
<path d="M543.2 343 L551 346.1 L545.4 353.5 L543.2 361.3 L538.7 363.5 L533.1 363 L533.1 356.8 L530.2 352.4 L533.1 350.1 L538.7 350.1Z"/>
<path d="M592 318.3 L585.4 322.3 L589.8 330.1 L594.3 334.5 L602.1 336.8 L606.5 342.3 L605.4 347.9 L602.1 352.4 L614.3 358.4 L617.7 354.6 L613.2 347.9 L612.1 336.8 L618.8 333.4 L619.9 329 L616.5 323.4 L609.9 322.3 L598.7 321.2Z"/>
<path d="M394 442.1 L397.3 440.3 L405.1 443.2 L414 447.6 L422.9 447.2 L425.1 450.3 L417.3 453.2 L411.8 453.2 L402.9 449.4 L394 445.4Z"/>
<path d="M381 653 L381.1 651.4 L382.3 647.1 L386 642.2 L390.9 638.6 L396.3 638.6 L396.9 643.5 L390.9 644.7 L389.6 653.0"/>
<path d="M741.6 511.4L743.8 515.8L742.7 526.5L738.2 523.6L738.9 515.8Z" fill="#fff"/>
<path d="M741.6 511.4L743.6 515.4L739 515.4Z" fill="#f44f39"/>
<path d="M643.5 424.5L644.6 425.5L644.6 428.5L640.4 428.5L642.6 426.6" stroke-width="1.3"/>
<path d="M566.4 431.3L564.8 434.5L562 438.5L563.5 438.5L566 435.5L567.2 432Z" fill="#ea362a" stroke-width="0.8"/>
</g>
<defs><g id="st"><path d="M0 -4h1v1h-1zM-1 -3h1v1h-1zM1 -3h1v1h-1zM-2 -2h1v1h-1zM2 -2h1v1h-1zM-3 -1h1v1h-1zM3 -1h1v1h-1zM-4 0h1v1h-1zM4 0h1v1h-1zM-3 1h1v1h-1zM3 1h1v1h-1zM-2 2h1v1h-1zM2 2h1v1h-1zM-1 3h1v1h-1zM1 3h1v1h-1zM0 4h1v1h-1z"/><path d="M0 -2h1v1h-1zM-1 -1h1v1h-1zM1 -1h1v1h-1zM-2 0h1v1h-1zM2 0h1v1h-1zM-1 1h1v1h-1zM1 1h1v1h-1zM0 2h1v1h-1z" fill-opacity="0.6"/></g></defs>
<g fill="#000">
<use href="#st" x="230" y="146"/>
<use href="#st" x="260" y="201"/>
<use href="#st" x="574" y="126"/>
<use href="#st" x="452" y="316"/>
<use href="#st" x="503" y="279"/>
<use href="#st" x="684" y="383"/>
<use href="#st" x="709" y="389"/>
<use href="#st" x="652" y="402"/>
<use href="#st" x="589" y="428"/>
<use href="#st" x="639" y="423"/>
<use href="#st" x="611" y="442"/>
<use href="#st" x="630" y="461"/>
<use href="#st" x="720" y="416"/>
<use href="#st" x="735" y="427"/>
<use href="#st" x="739" y="424"/>
<use href="#st" x="728" y="492"/>
<use href="#st" x="797" y="441"/>
<use href="#st" x="474" y="447"/>
<use href="#st" x="474" y="466"/>
<use href="#st" x="508" y="466"/>
</g>
<rect x="123" y="689" width="750" height="31" fill="#f0f0f0"/>
<rect x="115.0" y="683" width="54" height="30" fill="#fff5f0"/>
<rect x="168.5" y="683" width="54" height="30" fill="#fee5d9"/>
<rect x="222.0" y="683" width="54" height="30" fill="#fdd3c1"/>
<rect x="275.5" y="683" width="54" height="30" fill="#fcb99f"/>
<rect x="329.0" y="683" width="54" height="30" fill="#fc9d7f"/>
<rect x="382.5" y="683" width="54" height="30" fill="#fc8666"/>
<rect x="436.0" y="683" width="54" height="30" fill="#fb6a4a"/>
<rect x="489.5" y="683" width="54" height="30" fill="#f44f39"/>
<rect x="543.0" y="683" width="54" height="30" fill="#ea362a"/>
<rect x="596.5" y="683" width="54" height="30" fill="#d52221"/>
<rect x="650.0" y="683" width="54" height="30" fill="#c0151b"/>
<rect x="703.5" y="683" width="54" height="30" fill="#aa1016"/>
<rect x="757.0" y="683" width="54" height="30" fill="#8a0912"/>
<rect x="810.5" y="683" width="54" height="30" fill="#67000d"/>
<g stroke="#000" stroke-width="1" fill="none">
<rect x="115.5" y="683.5" width="749" height="30"/>
<path d="M115.5 683.5V717"/>
<path d="M222.5 683.5V717"/>
<path d="M329.5 683.5V717"/>
<path d="M436.5 683.5V717"/>
<path d="M543.5 683.5V717"/>
<path d="M650.5 683.5V717"/>
<path d="M757.5 683.5V717"/>
<path d="M864.5 683.5V717"/>
</g>
<g font-family="'Liberation Sans',sans-serif" font-size="10.3" fill="#000" text-anchor="middle" shape-rendering="auto">
<text x="115.2" y="726.6" textLength="11.6" lengthAdjust="spacingAndGlyphs">15</text>
<text x="222.2" y="726.6" textLength="11.6" lengthAdjust="spacingAndGlyphs">16</text>
<text x="329.2" y="726.6" textLength="11.6" lengthAdjust="spacingAndGlyphs">17</text>
<text x="436.2" y="726.6" textLength="11.6" lengthAdjust="spacingAndGlyphs">18</text>
<text x="543.2" y="726.6" textLength="11.6" lengthAdjust="spacingAndGlyphs">19</text>
<text x="650.2" y="726.6" textLength="11.6" lengthAdjust="spacingAndGlyphs">20</text>
<text x="757.2" y="726.6" textLength="11.6" lengthAdjust="spacingAndGlyphs">21</text>
<text x="864.2" y="726.6" textLength="11.6" lengthAdjust="spacingAndGlyphs">22</text>
</g>
<g font-family="'Liberation Sans',sans-serif" font-size="10.4" letter-spacing="0.8" fill="#000" shape-rendering="auto">
<text x="426.6" y="738" textLength="12" lengthAdjust="spacingAndGlyphs">°C</text>
<text x="448.6" y="738" textLength="69.4" lengthAdjust="spacingAndGlyphs">2026/04/20</text>
<text x="524.4" y="738" textLength="28.8" lengthAdjust="spacingAndGlyphs">12:04</text>
</g>
<g font-family="'Liberation Sans',sans-serif" font-size="16.6" fill="#1c1c1c" shape-rendering="auto">
<text x="297" y="70" textLength="149.5" lengthAdjust="spacingAndGlyphs">VictoriaWeather.ca</text>
<text x="457" y="69" textLength="24" lengthAdjust="spacingAndGlyphs">--</text>
<text x="492.4" y="70" textLength="101" lengthAdjust="spacingAndGlyphs">Temperature</text>
</g>
</svg>
</body></html>
